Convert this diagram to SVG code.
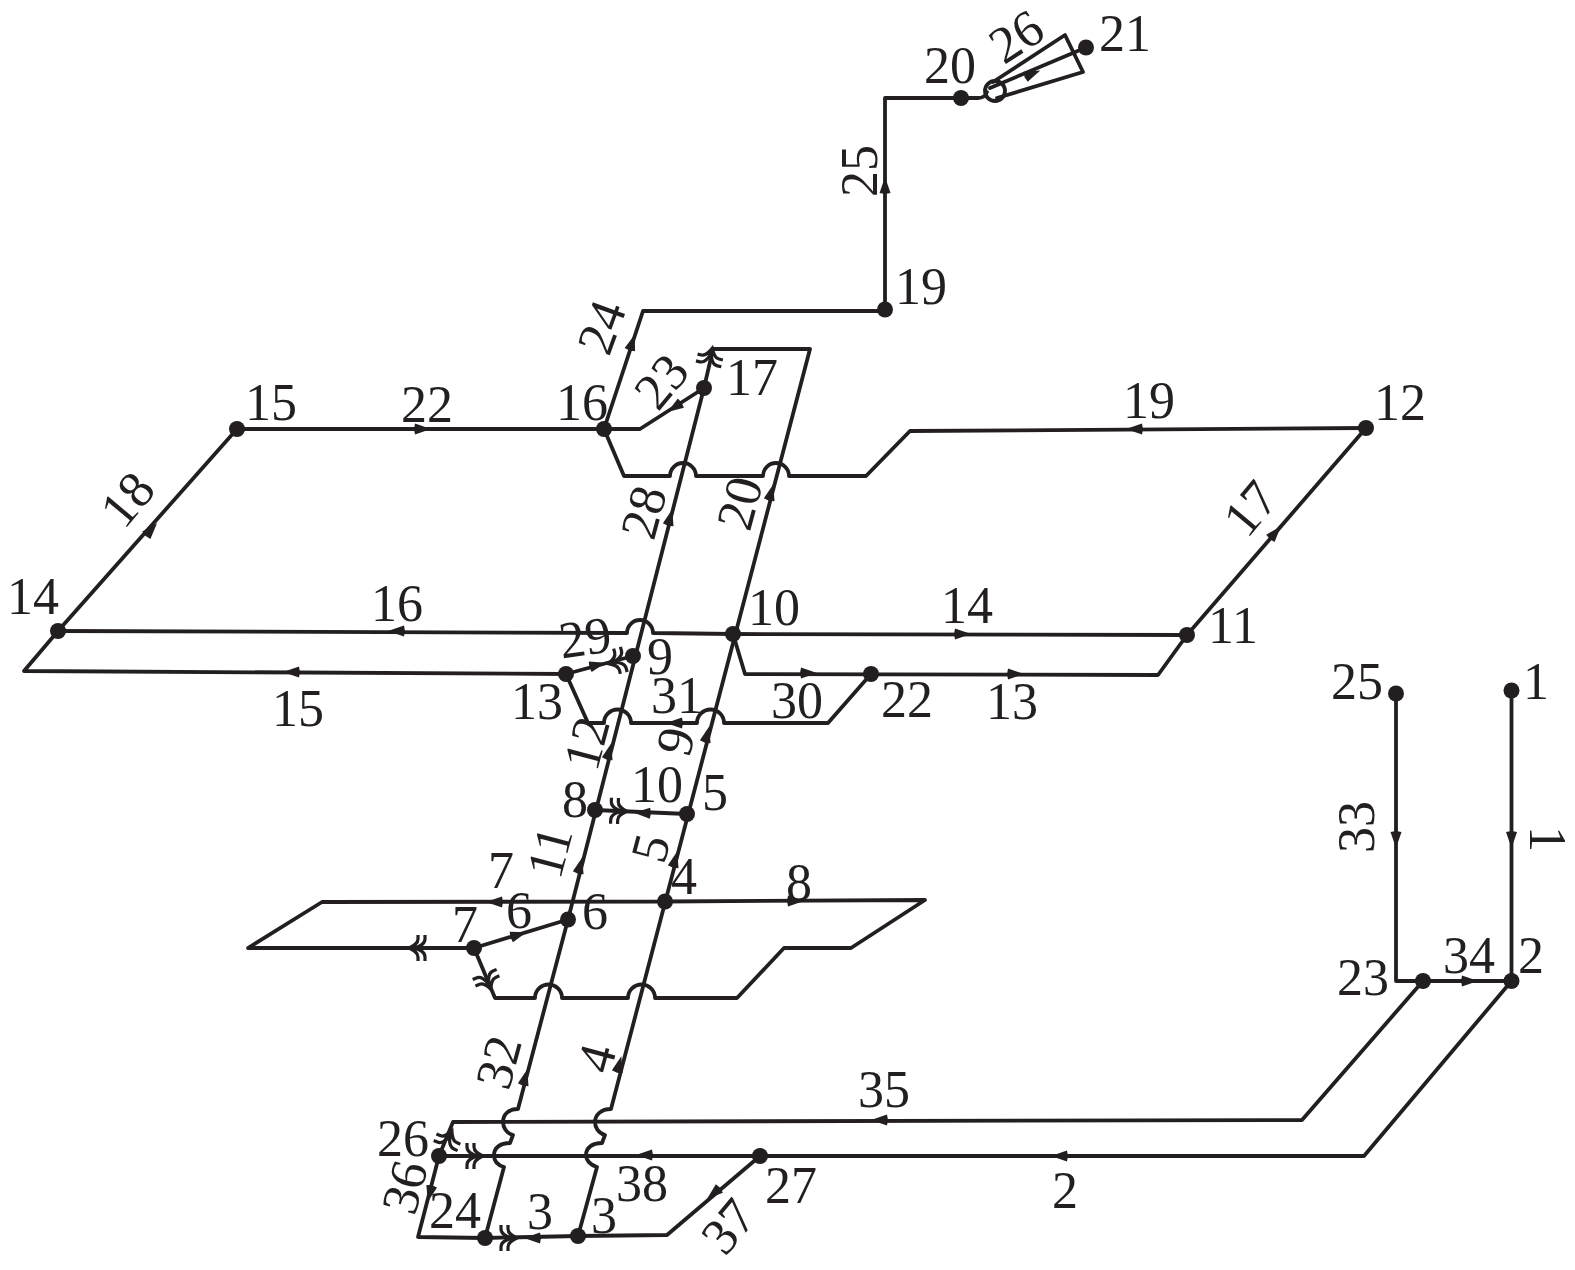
<svg xmlns="http://www.w3.org/2000/svg" width="1575" height="1270" viewBox="0 0 1575 1270">
<style>
.ln{fill:none;stroke:#231f20;stroke-width:3.8;stroke-linejoin:round;stroke-linecap:round}
.t{font-family:"Liberation Serif","Times New Roman",serif;font-size:52px;fill:#231f20}
.m{text-anchor:middle}
.n{fill:#231f20}
.b{fill:none;stroke:#231f20;stroke-width:3.2}
</style>
<defs>
<path id="arr" d="M9,0 L-7,-5.5 L-8,0 L-7,5.5 Z" fill="#231f20"/>
<path id="brk" class="b" d="M-1,-13 V-9 C-1,-4 -6,-2 -10,0 C-6,2 -1,4 -1,9 V13 M6,-13 V-9 C6,-4 1,-2 -4,0 C1,2 6,4 6,9 V13"/>
</defs>
<rect width="1575" height="1270" fill="#fff"/>
<g id="connectors">
<path class="ln" d="M1511.5,690.5 V981"/>
<path class="ln" d="M1396,693.5 V981 H1511.5"/>
<path class="ln" d="M1511.5,981 L1364,1156 H439"/>
<path class="ln" d="M1423,981 L1302,1120 L453,1122 L439,1156"/>
<path class="ln" d="M439,1156 L418,1237 L485,1238"/>
<path class="ln" d="M760,1156 L667,1235 L578,1236 L485,1238"/>
<path class="ln" d="M578,1236 L597,1167 C590,1165 586,1160 586,1155 C586,1148 592,1143 602,1143 L605,1135 C598,1133 595,1127 595,1122 C595,1115 601,1109 611,1109 L810,349 H713 L704,388 L568,919.5 L518,1109 C508,1109 503,1115 503,1122 C503,1127 506,1133 513,1135 L510,1143 C500,1143 494,1148 494,1155 C494,1160 497,1165 504,1167 L485,1238"/>
<path class="ln" d="M1366,428 L910,431 L866,476 H789 A13,13 0 0 0 763,476 H696 A13,13 0 0 0 670,476 H624 L604,429"/>
<path class="ln" d="M58,631 L627,633 A13,13 0 0 1 653,633 L733,634 L1187,635"/>
<path class="ln" d="M1187,635 L1158,675 L745,674 L733,634"/>
<path class="ln" d="M871,674 L828,723 H724 A13.5,13.5 0 0 0 697,723 H631 A13.5,13.5 0 0 0 604,723 H588 L566,674"/>
<path class="ln" d="M566,674 L24,671 L58,631 L237,429 H604"/>
<path class="ln" d="M1366,428 L1187,635"/>
<path class="ln" d="M604,429 L643,311 H885 V98 H961"/>
<path class="ln" d="M704,388 L640,429 H604"/>
<path class="ln" d="M961,98 H978 Q985,98 987,92"/>
<circle class="ln" cx="995" cy="91" r="10"/>
<path class="ln" d="M993,82 L1065,35 L1083,72 L997,98"/>
<path class="ln" d="M990,88 L1086,47.5"/>
<path class="ln" d="M665,901.5 L925,900 L851,948 H784 L737,998 H655 A13.5,13.5 0 0 0 628,998 H562 A13.5,13.5 0 0 0 535,998 H495 L474,948 H248 L322,902 L665,901.5"/>
<path class="ln" d="M474,948 L568,919.5"/>
<path class="ln" d="M566,674 L633,656"/>
<path class="ln" d="M595,810 L687,814"/>
<use href="#arr" transform="translate(1511.5,839) rotate(90)"/>
<use href="#arr" transform="translate(1396,839) rotate(90)"/>
<use href="#arr" transform="translate(1469,981)"/>
<use href="#arr" transform="translate(1060,1156) rotate(180)"/>
<use href="#arr" transform="translate(645,1155) rotate(180)"/>
<use href="#arr" transform="translate(880,1120) rotate(180)"/>
<use href="#arr" transform="translate(430,1193) rotate(104)"/>
<use href="#arr" transform="translate(714,1193) rotate(140)"/>
<use href="#arr" transform="translate(533,1238) rotate(180)"/>
<use href="#arr" transform="translate(619,1065) rotate(-75)"/>
<use href="#arr" transform="translate(675,860) rotate(-75)"/>
<use href="#arr" transform="translate(707,735) rotate(-75)"/>
<use href="#arr" transform="translate(771,493) rotate(-75)"/>
<use href="#arr" transform="translate(525,1078) rotate(-75)"/>
<use href="#arr" transform="translate(580,866) rotate(-75)"/>
<use href="#arr" transform="translate(609,752) rotate(-75)"/>
<use href="#arr" transform="translate(670,518) rotate(-75)"/>
<use href="#arr" transform="translate(643,813) rotate(182)"/>
<use href="#arr" transform="translate(518,935) rotate(-17)"/>
<use href="#arr" transform="translate(495,902) rotate(180)"/>
<use href="#arr" transform="translate(795,901)"/>
<use href="#arr" transform="translate(597,665) rotate(-15)"/>
<use href="#arr" transform="translate(397,631) rotate(180)"/>
<use href="#arr" transform="translate(292,672) rotate(180)"/>
<use href="#arr" transform="translate(962,634)"/>
<use href="#arr" transform="translate(1015,674)"/>
<use href="#arr" transform="translate(808,673)"/>
<use href="#arr" transform="translate(675,723) rotate(180)"/>
<use href="#arr" transform="translate(151,530) rotate(-48)"/>
<use href="#arr" transform="translate(1275,533) rotate(-49)"/>
<use href="#arr" transform="translate(422,429)"/>
<use href="#arr" transform="translate(1135,429) rotate(180)"/>
<use href="#arr" transform="translate(632,343) rotate(-72)"/>
<use href="#arr" transform="translate(675,407) rotate(147)"/>
<use href="#arr" transform="translate(885,186) rotate(-90)"/>
<use href="#arr" transform="translate(1032,74) rotate(-23)"/>
<use href="#brk" transform="translate(419,948)"/>
<use href="#brk" transform="translate(487,980) rotate(247)"/>
<use href="#brk" transform="translate(618,661) rotate(-15)"/>
<use href="#brk" transform="translate(617,811) rotate(182)"/>
<use href="#brk" transform="translate(473,1156) rotate(180)"/>
<use href="#brk" transform="translate(507,1238) rotate(180)"/>
<use href="#brk" transform="translate(448,1140) rotate(113)"/>
<use href="#brk" transform="translate(710,358) rotate(103)"/>
<text class="t m" transform="translate(1548,839) rotate(90)" y="18">1</text>
<text class="t m" transform="translate(1356,827) rotate(-90)" y="18">33</text>
<text class="t" x="1443" y="973">34</text>
<text class="t" x="1052" y="1208">2</text>
<text class="t" x="858" y="1107">35</text>
<text class="t" x="616" y="1201">38</text>
<text class="t m" transform="translate(404,1187) rotate(-75)" y="18">36</text>
<text class="t m" transform="translate(728,1226) rotate(-50)" y="18">37</text>
<text class="t" x="527" y="1229">3</text>
<text class="t m" transform="translate(596,1058) rotate(-75)" y="18">4</text>
<text class="t m" transform="translate(498,1062) rotate(-75)" y="18">32</text>
<text class="t m" transform="translate(650,848) rotate(-75)" y="18">5</text>
<text class="t m" transform="translate(549,852) rotate(-75)" y="18">11</text>
<text class="t" x="506" y="928">6</text>
<text class="t" x="488" y="888">7</text>
<text class="t" x="786" y="900">8</text>
<text class="t m" transform="translate(675,741) rotate(-75)" y="18">9</text>
<text class="t" x="631" y="802">10</text>
<text class="t m" transform="translate(586,743) rotate(-75)" y="18">12</text>
<text class="t" x="986" y="719">13</text>
<text class="t" x="941" y="623">14</text>
<text class="t" x="272" y="726">15</text>
<text class="t" x="371" y="621">16</text>
<text class="t m" transform="translate(1250,508) rotate(-50)" y="18">17</text>
<text class="t m" transform="translate(127,499) rotate(-50)" y="18">18</text>
<text class="t" x="1123" y="418">19</text>
<text class="t m" transform="translate(739,503) rotate(-75)" y="18">20</text>
<text class="t" x="401" y="422">22</text>
<text class="t m" transform="translate(661,381) rotate(-50)" y="18">23</text>
<text class="t m" transform="translate(601,327) rotate(-70)" y="18">24</text>
<text class="t m" transform="translate(859,171) rotate(-90)" y="18">25</text>
<text class="t m" transform="translate(1016,36) rotate(-33)" y="18">26</text>
<text class="t m" transform="translate(643,512) rotate(-75)" y="18">28</text>
<text class="t m" transform="translate(585,637) rotate(-8)" y="18">29</text>
<text class="t" x="771" y="718">30</text>
<text class="t" x="651" y="713">31</text>
</g>
<g id="n1"><circle class="n" cx="1511.5" cy="690.5" r="8"/><text class="t" x="1523" y="699">1</text></g>
<g id="n2"><circle class="n" cx="1511.5" cy="981" r="8"/><text class="t" x="1518" y="973">2</text></g>
<g id="n3"><circle class="n" cx="578" cy="1236" r="8"/><text class="t" x="591" y="1233">3</text></g>
<g id="n4"><circle class="n" cx="665" cy="901.5" r="8"/><text class="t" x="671" y="894">4</text></g>
<g id="n5"><circle class="n" cx="687" cy="814" r="8"/><text class="t" x="702" y="810">5</text></g>
<g id="n6"><circle class="n" cx="568" cy="919.5" r="8"/><text class="t" x="582" y="929">6</text></g>
<g id="n7"><circle class="n" cx="474" cy="948" r="8"/><text class="t" x="452" y="942">7</text></g>
<g id="n8"><circle class="n" cx="595" cy="810" r="8"/><text class="t" x="562" y="817">8</text></g>
<g id="n9"><circle class="n" cx="633" cy="656" r="8"/><text class="t" x="647" y="674">9</text></g>
<g id="n10"><circle class="n" cx="733" cy="634" r="8"/><text class="t" x="748" y="625">10</text></g>
<g id="n11"><circle class="n" cx="1187" cy="635" r="8"/><text class="t" x="1208" y="643">11</text></g>
<g id="n12"><circle class="n" cx="1366" cy="428" r="8"/><text class="t" x="1374" y="420">12</text></g>
<g id="n13"><circle class="n" cx="566" cy="674" r="8"/><text class="t" x="511" y="719">13</text></g>
<g id="n14"><circle class="n" cx="58" cy="631" r="8"/><text class="t" x="7" y="614">14</text></g>
<g id="n15"><circle class="n" cx="237" cy="429" r="8"/><text class="t" x="245" y="420">15</text></g>
<g id="n16"><circle class="n" cx="604" cy="429" r="8"/><text class="t" x="556" y="420">16</text></g>
<g id="n17"><circle class="n" cx="704" cy="388" r="8"/><text class="t" x="726" y="395">17</text></g>
<g id="n19"><circle class="n" cx="885" cy="309.5" r="8"/><text class="t" x="895" y="304">19</text></g>
<g id="n20"><circle class="n" cx="961" cy="98" r="8"/><text class="t" x="924" y="83">20</text></g>
<g id="n21"><circle class="n" cx="1086" cy="47.5" r="8"/><text class="t" x="1099" y="51">21</text></g>
<g id="n22"><circle class="n" cx="871" cy="674" r="8"/><text class="t" x="881" y="717">22</text></g>
<g id="n23"><circle class="n" cx="1423" cy="981" r="8"/><text class="t" x="1337" y="995">23</text></g>
<g id="n24"><circle class="n" cx="485" cy="1238" r="8"/><text class="t" x="429" y="1228">24</text></g>
<g id="n25"><circle class="n" cx="1396" cy="693.5" r="8"/><text class="t" x="1331" y="699">25</text></g>
<g id="n26"><circle class="n" cx="439" cy="1156" r="8"/><text class="t" x="377" y="1156">26</text></g>
<g id="n27"><circle class="n" cx="760" cy="1156" r="8"/><text class="t" x="765" y="1203">27</text></g>
</svg>
